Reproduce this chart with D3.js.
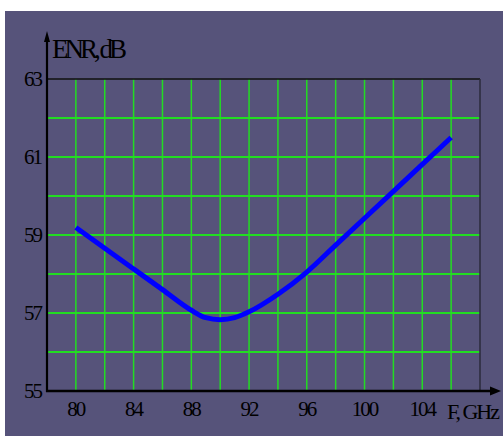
<!DOCTYPE html>
<html>
<head>
<meta charset="utf-8">
<script src="https://cdn.jsdelivr.net/npm/d3@7"></script>
<style>
  html, body { margin: 0; padding: 0; background: #ffffff; }
  svg { display: block; }
  text { font-family: "Liberation Serif", "DejaVu Serif", serif; fill: #000; }
</style>
</head>
<body>
<svg id="chart" width="503" height="436"></svg>
<script>
// ENR versus frequency
const freqGHz = [80, 82, 84, 86, 88, 89, 90, 91, 92, 94, 96, 98, 100, 102, 104, 106];
const enrDb   = [59.19, 58.66, 58.13, 57.6, 57.07, 56.88, 56.83, 56.88, 57.03, 57.48, 58.05, 58.74, 59.43, 60.12, 60.81, 61.5];

const xTickLabels = [80, 84, 88, 92, 96, 100, 104];
const yTickLabels = [55, 57, 59, 61, 63];
const xGridValues = [80, 82, 84, 86, 88, 90, 92, 94, 96, 98, 100, 102, 104, 106];
const yGridValues = [56, 57, 58, 59, 60, 61, 62];

const svg = d3.select("#chart");

// panel background
svg.append("rect")
  .attr("x", 5).attr("y", 11).attr("width", 498).attr("height", 425)
  .attr("fill", "#56537a");

const plotLeft = 47, plotRight = 480, plotTop = 79, plotBottom = 391;
const x = d3.scaleLinear().domain([78, 108]).range([plotLeft, plotRight]);
const y = d3.scaleLinear().domain([55, 63]).range([plotBottom, plotTop]);

// grid
const grid = svg.append("g");
grid.selectAll("line.v").data(xGridValues).join("line")
  .attr("class", "v")
  .attr("x1", d => x(d)).attr("x2", d => x(d))
  .attr("y1", plotTop).attr("y2", plotBottom)
  .attr("stroke", "#22dd22").attr("stroke-width", 1.5);
grid.selectAll("line.h").data(yGridValues).join("line")
  .attr("class", "h")
  .attr("x1", plotLeft).attr("x2", plotRight)
  .attr("y1", d => y(d)).attr("y2", d => y(d))
  .attr("stroke", "#22dd22").attr("stroke-width", 1.8);

// frame: top and right edges
svg.append("line")
  .attr("x1", plotLeft).attr("x2", plotRight).attr("y1", plotTop).attr("y2", plotTop)
  .attr("stroke", "#111111").attr("stroke-width", 1.5);
svg.append("line")
  .attr("x1", plotRight).attr("x2", plotRight).attr("y1", plotTop).attr("y2", plotBottom)
  .attr("stroke", "#2b2a3c").attr("stroke-width", 1.5);

// axes with arrows
svg.append("line")
  .attr("x1", plotLeft).attr("x2", plotLeft).attr("y1", plotBottom + 1).attr("y2", 40)
  .attr("stroke", "#000").attr("stroke-width", 2.2);
svg.append("path")
  .attr("d", `M${plotLeft},31 L${plotLeft - 3},42 L${plotLeft + 3},42 Z`)
  .attr("fill", "#000");
svg.append("line")
  .attr("x1", plotLeft - 1).attr("x2", 492).attr("y1", plotBottom).attr("y2", plotBottom)
  .attr("stroke", "#000").attr("stroke-width", 2.6);
svg.append("path")
  .attr("d", `M501,${plotBottom} L490,${plotBottom - 4.5} L490,${plotBottom + 4.5} Z`)
  .attr("fill", "#000");

// tick labels
svg.append("g").selectAll("text").data(xTickLabels).join("text")
  .attr("x", d => x(d)).attr("y", 416)
  .attr("text-anchor", "middle")
  .attr("font-size", 21).attr("letter-spacing", -2)
  .text(d => d);
svg.append("g").selectAll("text").data(yTickLabels).join("text")
  .attr("x", 41).attr("y", d => y(d) + 7)
  .attr("text-anchor", "end")
  .attr("font-size", 21).attr("letter-spacing", -2)
  .text(d => d);

// axis titles
svg.append("text")
  .attr("x", 52).attr("y", 58)
  .attr("font-size", 27).attr("letter-spacing", -4)
  .text("ENR, dB");
svg.append("text")
  .attr("x", 447).attr("y", 419)
  .attr("font-size", 22).attr("letter-spacing", -2)
  .text("F, GHz");

// curve
const line = d3.line()
  .x((d, i) => x(freqGHz[i]))
  .y(d => y(d))
  .curve(d3.curveMonotoneX);
svg.append("path")
  .datum(enrDb)
  .attr("d", line)
  .attr("fill", "none")
  .attr("stroke", "#0000ff")
  .attr("stroke-width", 5);
</script>
</body>
</html>
